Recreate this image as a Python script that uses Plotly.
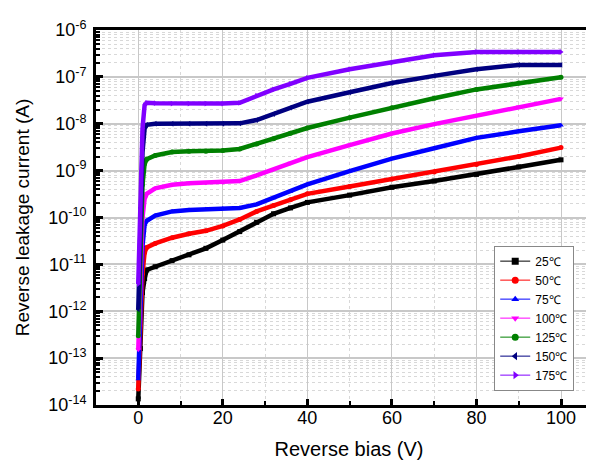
import plotly.graph_objects as go

# Reverse bias (V)
voltage = [0, 0.5, 1, 1.5, 2, 4, 8, 12, 16, 20, 24, 28, 32, 36, 40, 50, 60, 70, 80, 90, 100]

# Reverse leakage current (A) per temperature
i_25 = [1.35e-14, 1.6e-13, 2.5e-12, 5.0e-12, 7.6e-12, 8.9e-12, 1.2e-11, 1.6e-11, 2.2e-11, 3.3e-11, 5.0e-11,
        7.9e-11, 1.2e-10, 1.6e-10, 2.1e-10, 3.0e-10, 4.4e-10, 6.0e-10, 8.3e-10, 1.2e-9, 1.7e-9]
i_50 = [2.2e-14, 5.0e-13, 6.3e-12, 1.8e-11, 2.3e-11, 2.8e-11, 3.7e-11, 4.5e-11, 5.2e-11, 6.6e-11, 9.1e-11,
        1.35e-10, 1.8e-10, 2.4e-10, 3.2e-10, 4.6e-10, 6.6e-10, 9.3e-10, 1.35e-9, 2.0e-9, 3.1e-9]
i_75 = [3.6e-14, 1.6e-12, 2.5e-11, 7.1e-11, 8.5e-11, 1.1e-10, 1.35e-10, 1.45e-10, 1.5e-10, 1.55e-10, 1.6e-10,
        1.9e-10, 2.6e-10, 3.6e-10, 5.1e-10, 9.8e-10, 1.8e-9, 3.0e-9, 5.0e-9, 6.9e-9, 9.3e-9]
i_100 = [1.5e-13, 1.0e-11, 1.0e-10, 2.5e-10, 3.2e-10, 4.2e-10, 5.0e-10, 5.4e-10, 5.5e-10, 5.6e-10, 6.0e-10,
         7.9e-10, 1.07e-9, 1.45e-9, 1.95e-9, 3.5e-9, 6.2e-9, 9.8e-9, 1.5e-8, 2.3e-8, 3.4e-8]
i_125 = [3.0e-13, 3.2e-11, 5.0e-10, 1.4e-9, 1.75e-9, 2.1e-9, 2.5e-9, 2.6e-9, 2.6e-9, 2.7e-9, 2.9e-9,
         3.7e-9, 4.8e-9, 6.3e-9, 8.1e-9, 1.35e-8, 2.2e-8, 3.5e-8, 5.4e-8, 7.4e-8, 9.8e-8]
i_150 = [1.1e-12, 1.6e-10, 2.5e-9, 7.9e-9, 9.5e-9, 1.0e-8, 1.0e-8, 1.0e-8, 1.0e-8, 1.0e-8, 1.02e-8,
         1.2e-8, 1.6e-8, 2.2e-8, 2.95e-8, 4.7e-8, 7.4e-8, 1.05e-7, 1.45e-7, 1.8e-7, 1.8e-7]
i_175 = [3.8e-12, 5.0e-10, 7.9e-9, 2.5e-8, 2.8e-8, 2.75e-8, 2.7e-8, 2.7e-8, 2.7e-8, 2.7e-8, 2.8e-8,
         4.0e-8, 5.4e-8, 7.1e-8, 9.5e-8, 1.45e-7, 2.0e-7, 2.9e-7, 3.4e-7, 3.4e-7, 3.4e-7]

labels = ["25℃", "50℃", "75℃", "100℃", "125℃", "150℃", "175℃"]
series = [i_25, i_50, i_75, i_100, i_125, i_150, i_175]
colors = ["#000000", "#FF0000", "#0000FF", "#FF00FF", "#008000", "#000080", "#8000FF"]
symbols = ["square", "circle", "triangle-up", "triangle-down", "circle", "triangle-left", "triangle-right"]

y_tickvals = [10.0 ** e for e in range(-14, -5)]
y_ticktext = ["10<sup>%d</sup>" % e for e in range(-14, -5)]
y_minor = [m * 10.0 ** e for e in range(-14, -6) for m in range(2, 10)]

fig = go.Figure()
for lab, ys, c, s in zip(labels, series, colors, symbols):
    fig.add_trace(go.Scatter(
        x=voltage, y=ys, mode="lines+markers", name=lab, legendgroup=lab, showlegend=False,
        line=dict(color=c, width=4.5), marker=dict(symbol=s, size=5, color=c),
    ))
    # legend entry (thin line with marker, as in the original legend)
    fig.add_trace(go.Scatter(
        x=[None], y=[None], mode="lines+markers", name=lab, legendgroup=lab,
        line=dict(color=c, width=1), marker=dict(symbol=s, size=7, color=c),
    ))

font_family = "Liberation Sans, Arial, sans-serif"

fig.update_layout(
    width=594, height=462,
    margin=dict(l=88, r=0, t=22, b=65),
    paper_bgcolor="white", plot_bgcolor="white",
    font=dict(family=font_family, color="black"),
    showlegend=True,
    legend=dict(
        x=0.787, y=0.425, xanchor="left", yanchor="top",
        bgcolor="white", bordercolor="#888888", borderwidth=1,
        font=dict(size=12, family=font_family), tracegroupgap=0,
        itemwidth=30,
    ),
    xaxis=dict(
        range=[-10, 109.7], tickmode="array", tickvals=[0, 20, 40, 60, 80, 100],
        ticks="inside", ticklen=6, tickwidth=3, tickcolor="black",
        showline=True, linecolor="black", linewidth=3, mirror=True,
        showgrid=True, gridcolor="#c8c8c8", gridwidth=1,
        minor=dict(tickvals=[10, 30, 50, 70, 90], ticks="inside", ticklen=4, tickwidth=2,
                   tickcolor="black", showgrid=True, gridcolor="#d8d8d8", griddash="dot", gridwidth=1),
        tickfont=dict(size=18), ticklabelstandoff=-6,
        title=dict(text="Reverse bias (V)", font=dict(size=20), standoff=16),
        zeroline=False,
    ),
    yaxis=dict(
        type="log", range=[-14, -6], tickmode="array", tickvals=y_tickvals, ticktext=y_ticktext,
        ticks="inside", ticklen=7, tickwidth=3, tickcolor="black",
        showline=True, linecolor="black", linewidth=3, mirror=False,
        showgrid=True, gridcolor="#c8c8c8", gridwidth=1.5,
        minor=dict(tickvals=y_minor, ticks="inside", ticklen=4, tickwidth=2, tickcolor="black",
                   showgrid=True, gridcolor="#d8d8d8", griddash="dot", gridwidth=1),
        tickfont=dict(size=18), ticklabelstandoff=3,
        title=dict(text="Reverse leakage current (A)", font=dict(size=19), standoff=14),
        zeroline=False,
    ),
)

fig.write_html("out.html")
